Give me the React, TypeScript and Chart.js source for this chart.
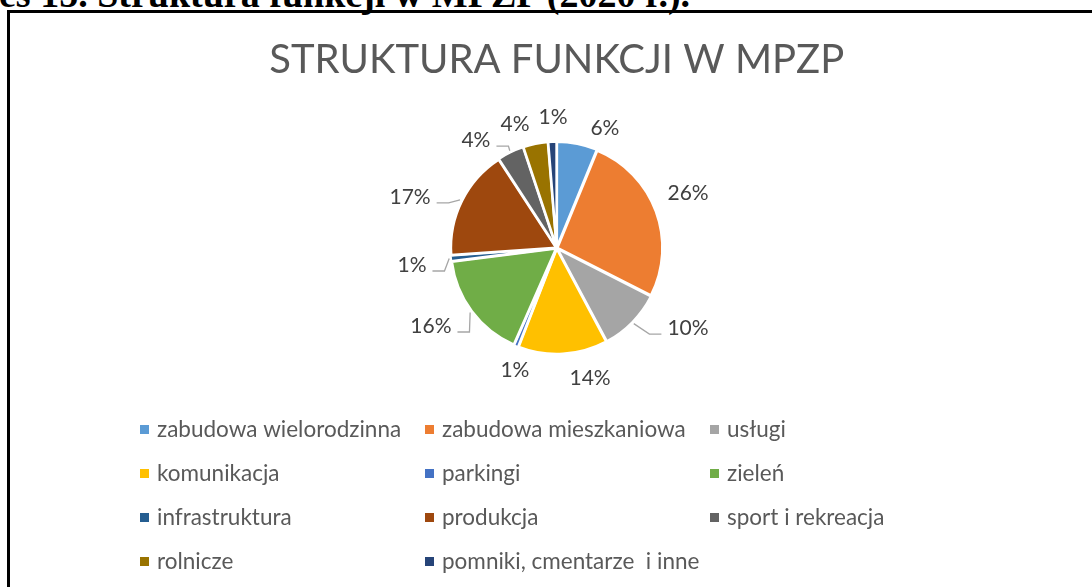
import React, { useEffect, useRef } from "react";
import { Chart, registerables } from "chart.js";

Chart.register(...registerables);

const TITLE = "STRUKTURA FUNKCJI W MPZP";
const HEADER = "es 15. Struktura funkcji w MPZP (2020 r.).";

const CATEGORIES = [
  "zabudowa wielorodzinna",
  "zabudowa mieszkaniowa",
  "usługi",
  "komunikacja",
  "parkingi",
  "zieleń",
  "infrastruktura",
  "produkcja",
  "sport i rekreacja",
  "rolnicze",
  "pomniki, cmentarze  i inne",
];

const VALUES = [6.2, 26.3, 9.7, 13.7, 0.7, 16.4, 0.9, 16.9, 4.1, 3.8, 1.3];

const COLORS = [
  "#5B9BD5",
  "#ED7D31",
  "#A5A5A5",
  "#FFC000",
  "#4472C4",
  "#70AD47",
  "#255E91",
  "#9E480E",
  "#636363",
  "#997300",
  "#264478",
];

// label placement: angle (deg, clockwise from top) and distance (x radius)
const LABEL_ANGLES = [21.9, 67.3, 121.4, 165.6, 198.9, 238.2, 263.3, 289.2, 323.2, 341.4, 358.4];
const LABEL_DIST = [1.232, 1.356, 1.465, 1.278, 1.228, 1.41, 1.388, 1.479, 1.284, 1.246, 1.248];
const LABEL_LEADER = [false, false, true, false, false, true, true, true, true, false, false];

const FONT = "Lato";

const labelsPlugin = {
  id: "pieLabels",
  afterDatasetsDraw(chart: any) {
    const ctx = chart.ctx;
    const meta = chart.getDatasetMeta(0);
    const values = chart.data.datasets[0].data as number[];
    const total = values.reduce((a, b) => a + b, 0);
    ctx.save();
    ctx.font = `21px ${FONT}`;
    ctx.textAlign = "center";
    ctx.textBaseline = "middle";
    meta.data.forEach((arc: any, i: number) => {
      const p = arc.getProps(["x", "y", "startAngle", "endAngle", "outerRadius"], true);
      const R = p.outerRadius;
      const a = ((LABEL_ANGLES[i] - 90) * Math.PI) / 180;
      const lx = p.x + Math.cos(a) * R * LABEL_DIST[i];
      const ly = p.y + Math.sin(a) * R * LABEL_DIST[i];
      const text = Math.round((values[i] / total) * 100) + "%";
      const w = ctx.measureText(text).width;
      if (LABEL_LEADER[i]) {
        const mid = (p.startAngle + p.endAngle) / 2;
        const ex = p.x + Math.cos(mid) * (R + 3);
        const ey = p.y + Math.sin(mid) * (R + 3);
        const left = lx < p.x;
        const edge = left ? lx + w / 2 : lx - w / 2;
        const dir = left ? 1 : -1;
        const yLine = ly + 6;
        ctx.strokeStyle = "#A6A6A6";
        ctx.lineWidth = 1.3;
        ctx.beginPath();
        ctx.moveTo(ex, ey);
        ctx.lineTo(edge + dir * 18, yLine);
        ctx.lineTo(edge + dir * 6, yLine);
        ctx.stroke();
      }
      ctx.fillStyle = "#404040";
      ctx.fillText(text, lx, ly);
    });
    ctx.restore();
  },
};

const legendPlugin = {
  id: "gridLegend",
  afterDraw(chart: any) {
    const ctx = chart.ctx;
    const labels = chart.data.labels as string[];
    const colors = chart.data.datasets[0].backgroundColor as string[];
    const x0 = 140;
    const y0 = 429.5;
    const colW = 285;
    const rowH = 44;
    ctx.save();
    ctx.font = `22.5px ${FONT}`;
    ctx.textAlign = "left";
    ctx.textBaseline = "middle";
    labels.forEach((lab, i) => {
      const col = i % 3;
      const row = Math.floor(i / 3);
      const x = x0 + col * colW;
      const y = y0 + row * rowH;
      ctx.fillStyle = colors[i];
      ctx.fillRect(x, y - 4.5, 9, 9);
      ctx.fillStyle = "#595959";
      ctx.fillText(lab, x + 17, y);
    });
    ctx.restore();
  },
};

export default function App() {
  const ref = useRef<HTMLCanvasElement | null>(null);
  useEffect(() => {
    if (!ref.current) return;
    const chart = new Chart(ref.current, {
      type: "pie",
      data: {
        labels: CATEGORIES,
        datasets: [
          {
            data: VALUES,
            backgroundColor: COLORS,
            borderColor: "#FFFFFF",
            borderWidth: 2.5,
            offset: 3,
            radius: 105,
          } as any,
        ],
      },
      options: {
        animation: false,
        responsive: false,
        devicePixelRatio: 1,
        layout: { padding: { left: 40, right: 18.6, top: 0, bottom: 185 } },
        plugins: {
          legend: { display: false },
          tooltip: { enabled: false },
          title: {
            display: true,
            text: TITLE,
            color: "#595959",
            font: { family: FONT, size: 40, weight: "normal" },
            padding: { top: 36, bottom: 10 },
          },
        },
      } as any,
      plugins: [labelsPlugin, legendPlugin],
    });
    return () => chart.destroy();
  }, []);

  return (
    <div style={{ position: "absolute", left: 0, top: 0, width: 1092, height: 587, overflow: "hidden", background: "#fff" }}>
      <div
        style={{
          position: "absolute",
          left: -1,
          top: -25,
          fontFamily: "'Liberation Serif', 'Times New Roman', serif",
          fontWeight: "bold",
          fontSize: 38,
          lineHeight: "38px",
          whiteSpace: "nowrap",
          color: "#000",
        }}
      >
        {HEADER}
      </div>
      <div
        style={{
          position: "absolute",
          left: 7,
          top: 10,
          width: 1200,
          height: 700,
          borderLeft: "3px solid #000",
          borderTop: "3px solid #000",
        }}
      />
      <canvas ref={ref} width={1092} height={587} style={{ position: "absolute", left: 0, top: 0, display: "block" }} />
    </div>
  );
}
